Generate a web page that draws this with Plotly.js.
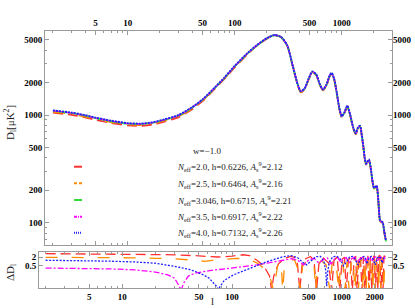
<!DOCTYPE html>
<html><head><meta charset="utf-8">
<script src="https://cdn.plot.ly/plotly-3.0.1.min.js"></script>
<style>html,body{margin:0;padding:0;background:#fff;} #chart{width:415px;height:308px;}</style>
</head><body><div id="chart"></div>
<script>
// ---------- top panel: D_l vs l ----------
const lTop = [2,3,4,5,7,10,13,17,22,30,40,50,65,80,100,130,160,200,235,270,310,350,390,414,450,490,531,580,620,668,720,770,806,850,900,950,1000,1060,1127,1200,1280,1353,1420,1483,1540,1592,1640,1687,1740,1799,1860,1930,2004,2060,2124,2200,2280,2350,2415,2500,2594];
const dNeff20 = [1052,1004,950,902,845,801,793,816,869,957,1133,1345,1745,2160,2770,3630,4380,5120,5480,5290,4390,2790,1860,1620,1730,2130,2490,2330,1930,1690,1880,2270,2410,2130,1590,1140,955,1040,1195,990,752,662,752,781,643,505,396,346,361,377,326,247,206,211,216,158,104,101,99,81,66];
const dNeff25 = [1068,1019,965,916,858,814,806,829,883,972,1150,1360,1755,2170,2790,3650,4390,5130,5490,5295,4395,2795,1870,1635,1740,2140,2505,2340,1940,1700,1890,2285,2425,2140,1595,1145,960,1045,1202,995,756,666,756,786,647,508,398,348,363,380,328,249,207,212,218,159,105,102,100,82,67];
const dNeff3046 = [1090,1040,985,935,875,830,822,845,900,990,1170,1380,1780,2200,2830,3680,4400,5150,5500,5300,4400,2800,1880,1650,1750,2150,2520,2350,1950,1710,1900,2300,2440,2150,1600,1150,965,1050,1210,1000,760,670,760,790,650,510,400,350,365,382,330,250,208,213,219,160,105,102,100,82,67];
const dNeff35 = [1094,1044,988,938,878,833,825,848,903,993,1174,1384,1785,2206,2838,3690,4410,5160,5510,5310,4410,2805,1885,1655,1755,2155,2527,2355,1955,1714,1905,2306,2446,2155,1604,1153,968,1053,1213,1003,762,672,762,792,652,511,401,351,366,383,331,251,209,214,220,160,105,102,100,82,67];
const dNeff40 = [1103,1052,997,946,886,840,832,855,911,1001,1183,1393,1798,2222,2858,3715,4430,5180,5530,5330,4430,2820,1895,1665,1765,2170,2540,2370,1965,1722,1915,2318,2458,2165,1612,1158,972,1058,1220,1008,766,676,766,796,655,514,403,353,368,386,333,252,210,215,221,161,106,103,101,83,68];

// ---------- bottom panel: |Delta D_l| (%) ----------
const lRed = [2,3,5,8,12,20,30,46,60,75,100,125,145,170,195,220,230,240,265,300,340,370,395,415,435,470,520,560,590,620,680,760,810,850,910,960,1010,1060,1100,1150,1200,1250,1300,1340,1380,1430,1480,1530,1580,1630,1680,1730,1780,1830,1880,1930,1980,2030,2080,2130,2180,2230,2280,2330,2380,2430,2500];
const dRed = [3.6,3.55,3.5,3.45,3.35,3.2,3.0,2.6,2.2,2.1,2.4,3.0,2.6,1.2,0.5,0.1,0.01,0.1,0.7,1.6,2.3,2.0,0.7,0.01,0.6,1.6,2.3,1.1,0.01,0.7,1.8,0.8,0.01,1.2,2.2,0.01,1.5,2.0,0.01,1.2,2.2,0.01,1.8,2.4,0.01,1.6,2.5,0.01,2.0,0.01,1.5,2.6,0.01,2.2,0.01,1.8,2.6,0.01,2.0,0.01,2.4,2.8,0.01,2.4,0.01,2.6,2.2];
const lOrange = [2,3,5,8,12,20,30,45,57,70,90,110,140,170,200,220,240,260,280,290,300,330,370,400,420,440,480,520,560,580,600,650,720,780,820,860,900,940,980,1020,1070,1120,1170,1220,1270,1320,1370,1420,1470,1520,1570,1620,1670,1720,1770,1820,1870,1920,1970,2020,2070,2120,2170,2220,2270,2320,2370,2420,2470,2500];
const dOrange = [2.0,2.0,1.95,1.9,1.85,1.7,1.6,1.25,1.05,1.3,1.6,1.7,1.5,0.8,0.3,0.1,0.01,0.5,0.9,0.01,0.4,1.1,1.4,0.3,0.01,0.5,1.2,1.4,0.5,0.01,0.5,1.2,0.6,0.01,0.9,1.4,0.3,0.01,0.9,1.3,0.01,1.0,0.01,1.1,1.5,0.01,1.2,0.01,1.0,1.6,0.01,1.3,0.01,1.4,0.01,1.2,1.7,0.01,1.5,0.01,1.3,1.8,0.01,1.6,0.01,1.4,1.9,0.01,1.7,1.3];
const lMag = [2,4,8,13,20,26,30,33,34.5,36,40,46,65,95,130,170,210,260,300,350,400,450,500,560,620,680,740,800,860,920,980,1040,1100,1170,1240,1320,1400,1480,1560,1640,1720,1800,1880,1960,2040,2120,2200,2280,2360,2450,2500];
const dMag = [0.36,0.35,0.31,0.27,0.19,0.12,0.07,0.02,0.01,0.03,0.1,0.16,0.25,0.34,0.45,0.6,0.8,1.1,1.4,1.6,1.2,0.6,1.3,1.7,0.8,1.4,1.8,0.7,1.5,1.9,0.9,1.6,1.9,0.8,1.7,2.0,0.9,1.7,2.0,0.9,1.8,2.0,1.0,1.8,2.1,1.0,1.8,2.1,1.1,1.9,1.6];
const lBlue = [2,4,8,13,20,30,40,46,55,62,68,72,75,78,85,103,145,207,292,350,400,440,480,520,580,640,690,715,730,745,770,830,900,970,1040,1110,1180,1260,1340,1400,1470,1540,1620,1700,1780,1860,1940,2020,2100,2180,2260,2340,2420,2500];
const dBlue = [1.25,1.2,1.07,0.95,0.78,0.47,0.3,0.21,0.12,0.07,0.035,0.02,0.012,0.02,0.05,0.12,0.34,0.99,2.2,2.6,1.8,0.9,0.6,1.1,2.2,2.3,1.0,0.25,0.02,0.2,0.9,2.2,2.4,1.5,0.5,1.0,2.2,2.3,1.3,0.6,1.2,2.1,2.3,0.7,1.9,2.3,1.4,0.6,1.7,2.3,1.8,0.8,1.9,2.2];

// ---------- ticks / labels ----------
const xMajorTop = [5,10,50,100,500,1000];
const xMajorBot = [5,10,50,100,500,1000,2000];
const xMinor = [2,3,4,6,7,8,9,20,30,40,60,70,80,90,200,300,400,600,700,800,900,2000,3000];
const xMinorBot = [2,3,4,6,7,8,9,20,30,40,60,70,80,90,200,300,400,600,700,800,900,3000];
const yMajorTop = [100,200,500,1000,2000,5000];
const yMinorTop = [70,80,90,300,400,600,700,800,900,3000,4000];
const yMajorBot = [0.5,2];
const legendLabels = [
  '<i>N</i><sub>eff</sub>=2.0, h=0.6226, <i>A</i><sub>s</sub><sup>9</sup>=2.12',
  '<i>N</i><sub>eff</sub>=2.5, h=0.6464, <i>A</i><sub>s</sub><sup>9</sup>=2.16',
  '<i>N</i><sub>eff</sub>=3.046, h=0.6715, <i>A</i><sub>s</sub><sup>9</sup>=2.21',
  '<i>N</i><sub>eff</sub>=3.5, h=0.6917, <i>A</i><sub>s</sub><sup>9</sup>=2.22',
  '<i>N</i><sub>eff</sub>=4.0, h=0.7132, <i>A</i><sub>s</sub><sup>9</sup>=2.26'
];

const W = 415, H = 308;
const px = v => v / W, py = v => 1 - v / H;
const serif = 'Liberation Serif, Times New Roman, serif';
const tickFont = {family: serif, size: 9, color: '#000', weight: 'bold'};
const frameCol = '#9a9a9a';

const styles = [
  {color: '#ff3030', dash: '10px,5px', width: 1.8},
  {color: '#ff8c00', dash: '12px,14px', width: 1.6},
  {color: '#33dd33', dash: 'solid', width: 1.8},
  {color: '#ff00ff', dash: '6px,2px,2px,2px', width: 1.3},
  {color: '#2020ff', dash: '2px,1px', width: 1.9}
];
const topSeries = [dNeff20, dNeff25, dNeff3046, dNeff35, dNeff40];
const traces = topSeries.map((d, i) => ({
  x: lTop, y: d, type: 'scatter', mode: 'lines', xaxis: 'x', yaxis: 'y',
  line: {color: styles[i].color, dash: styles[i].dash, width: styles[i].width, shape: 'spline', smoothing: 0.6},
  showlegend: false, hoverinfo: 'skip'
}));
const botSeries = [[lRed, dRed, 0], [lOrange, dOrange, 1], [lMag, dMag, 3], [lBlue, dBlue, 4]];
botSeries.forEach(([lx, dy, si]) => traces.push({
  x: lx, y: dy, type: 'scatter', mode: 'lines', xaxis: 'x2', yaxis: 'y2',
  line: {color: styles[si].color, dash: si === 4 ? '2px,1.5px' : styles[si].dash, width: 1.3},
  showlegend: false, hoverinfo: 'skip'
}));
traces.push({x: [], y: [], xaxis: 'x', yaxis: 'y3', showlegend: false, hoverinfo: 'skip', type: 'scatter'});
traces.push({x: [], y: [], xaxis: 'x2', yaxis: 'y4', showlegend: false, hoverinfo: 'skip', type: 'scatter'});

function ax(extra) {
  return Object.assign({
    type: 'log', showgrid: false, zeroline: false, showline: true, linecolor: frameCol, linewidth: 1,
    ticks: 'inside', ticklen: 4, tickcolor: frameCol, tickwidth: 1, tickfont: tickFont,
    tickmode: 'array', mirror: 'ticks', fixedrange: true
  }, extra);
}
const minor = vals => ({tickmode: 'array', tickvals: vals, ticks: 'inside', ticklen: 2, tickcolor: frameCol});

const topDom = [py(245), py(31)];
const botDom = [py(288), py(252)];

const layout = {
  width: W, height: H, margin: {l: 0, r: 0, t: 0, b: 0},
  paper_bgcolor: '#fff', plot_bgcolor: '#fff', showlegend: false,
  xaxis: ax({domain: [px(45), px(392)], range: [0.227, 3.470], anchor: 'y', side: 'top',
    tickvals: xMajorTop, ticktext: xMajorTop.map(String), minor: minor(xMinor)}),
  yaxis: ax({domain: topDom, range: [1.793, 3.780], anchor: 'x',
    tickvals: yMajorTop, ticktext: yMajorTop.map(String), minor: minor(yMinorTop)}),
  yaxis3: ax({domain: topDom, range: [1.793, 3.780], anchor: 'x', overlaying: 'y', side: 'right',
    showline: false, mirror: false, ticks: '', tickvals: yMajorTop, ticktext: yMajorTop.map(String)}),
  xaxis2: ax({domain: [px(39), px(392)], range: [0.2407, 3.4585], anchor: 'y2', side: 'bottom',
    tickvals: xMajorBot, ticktext: xMajorBot.map(String), minor: minor(xMinorBot)}),
  yaxis2: ax({domain: botDom, range: [-1.83, 0.67], anchor: 'x2',
    tickvals: yMajorBot, ticktext: ['0.5', '2']}),
  yaxis4: ax({domain: botDom, range: [-1.83, 0.67], anchor: 'x2', overlaying: 'y2', side: 'right',
    showline: false, mirror: false, ticks: '', tickvals: yMajorBot, ticktext: ['0.5', '2']}),
  annotations: [],
  shapes: []
};

const ann = (x, y, text, opts) => Object.assign({xref: 'paper', yref: 'paper', x: px(x), y: py(y), text: text,
  showarrow: false, font: {family: serif, size: 9, color: '#222'}, xanchor: 'center', yanchor: 'middle'}, opts || {});
layout.annotations.push(ann(10, 123, 'D<sub>l</sub>[μK<sup>2</sup>]', {textangle: -90, font: {family: serif, size: 11, color: '#222'}}));
layout.annotations.push(ann(11, 273, 'ΔD<sub>l</sub>', {textangle: -90, font: {family: serif, size: 11, color: '#222'}}));
layout.annotations.push(ann(213, 301, 'l', {font: {family: serif, size: 11, color: '#222'}}));
layout.annotations.push(ann(207, 151, 'w=−1.0'));
const legY = [166.7, 183.3, 200, 216.7, 232.7];
legendLabels.forEach((t, i) => {
  layout.annotations.push(ann(175, legY[i], t, {xanchor: 'left'}));
  const s = styles[i];
  const sampleDash = ['solid', '3px,2px', 'solid', '3px,1px,1px,1px', '1px,1px'][i];
  layout.shapes.push({type: 'line', xref: 'paper', yref: 'paper', x0: px(74), x1: px(82), y0: py(legY[i]), y1: py(legY[i]),
    line: {color: s.color, width: 2, dash: sampleDash}});
});

Plotly.newPlot('chart', traces, layout, {staticPlot: true, displayModeBar: false});
</script></body></html>
